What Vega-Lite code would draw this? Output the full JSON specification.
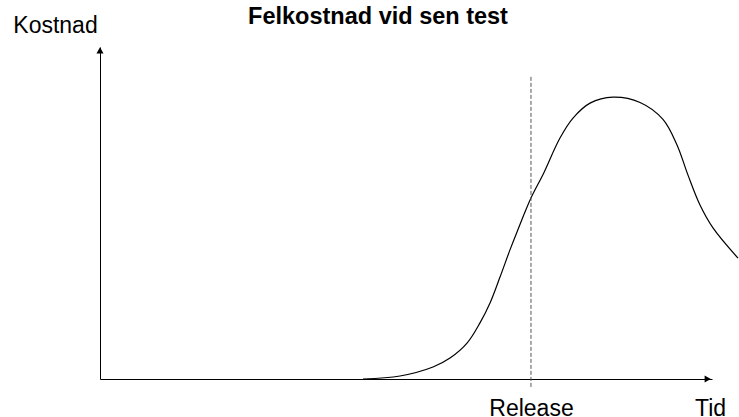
{
  "$schema": "https://vega.github.io/schema/vega-lite/v6.json",
  "autosize": {"type": "none"},
  "padding": {"left": 100, "top": 47, "right": 27, "bottom": 38},
  "width": 612,
  "height": 332,
  "background": "white",
  "config": {"view": {"stroke": null}},
  "title": {
    "text": "Felkostnad vid sen test",
    "frame": "group",
    "anchor": "middle",
    "offset": -33,
    "baseline": "alphabetic",
    "dx": -28,
    "fontSize": 23.5,
    "font": "Liberation Sans",
    "fontWeight": "bold",
    "color": "black"
  },
  "datasets": {
    "curve": [
      {"t": 42.97, "c": 0},
      {"t": 49.02, "c": 0.9},
      {"t": 54.41, "c": 3.6},
      {"t": 57.19, "c": 6.3},
      {"t": 59.97, "c": 10.8},
      {"t": 62.09, "c": 16.9},
      {"t": 63.73, "c": 22.9},
      {"t": 65.36, "c": 30.7},
      {"t": 66.99, "c": 38.9},
      {"t": 68.14, "c": 44.3},
      {"t": 70.42, "c": 54.5},
      {"t": 72.39, "c": 61.6},
      {"t": 75.16, "c": 72.6},
      {"t": 77.29, "c": 78.6},
      {"t": 80.07, "c": 83.1},
      {"t": 83.82, "c": 84.9},
      {"t": 88.24, "c": 83.3},
      {"t": 91.99, "c": 78.2},
      {"t": 94.28, "c": 70.5},
      {"t": 96.08, "c": 61.4},
      {"t": 98.04, "c": 52.4},
      {"t": 100.16, "c": 45.5},
      {"t": 104.25, "c": 36.4}
    ],
    "events": [
      {"event": "Release", "t": 70.42}
    ]
  },
  "layer": [
    {
      "data": {"name": "curve"},
      "mark": {"type": "line", "color": "black", "strokeWidth": 1.2, "interpolate": "catmull-rom", "clip": false},
      "encoding": {
        "x": {
          "field": "t", "type": "quantitative",
          "scale": {"domain": [0, 100], "nice": false, "zero": false},
          "axis": {
            "orient": "bottom",
            "domain": true, "domainColor": "black", "domainWidth": 1,
            "ticks": false, "tickSize": 0, "grid": false,
            "values": [70.42],
            "labelExpr": "'Release'",
            "labelFont": "Liberation Sans", "labelFontSize": 23, "labelColor": "black",
            "labelBaseline": "alphabetic", "labelPadding": 36,
            "labelFlush": false, "labelOverlap": false,
            "title": "Tid",
            "titleFont": "Liberation Sans", "titleFontSize": 23, "titleFontWeight": "normal", "titleColor": "black",
            "titleX": 610, "titleY": 36, "titleAlign": "center", "titleBaseline": "alphabetic", "titleAnchor": null
          }
        },
        "y": {
          "field": "c", "type": "quantitative",
          "scale": {"domain": [0, 100], "nice": false, "zero": false},
          "axis": {
            "orient": "left",
            "domain": true, "domainColor": "black", "domainWidth": 1,
            "ticks": false, "labels": false, "grid": false,
            "title": "Kostnad",
            "titleAngle": 0,
            "titleFont": "Liberation Sans", "titleFontSize": 23, "titleFontWeight": "normal", "titleColor": "black",
            "titleX": -45, "titleY": -15, "titleAlign": "center", "titleBaseline": "alphabetic"
          }
        }
      }
    },
    {
      "data": {"name": "events"},
      "mark": {"type": "rule", "color": "#555555", "strokeWidth": 1, "strokeDash": [4, 2], "clip": false},
      "encoding": {
        "x": {"field": "t", "type": "quantitative"},
        "y": {"datum": 91},
        "y2": {"datum": -2.4}
      }
    },
    {
      "data": {"values": [{}]},
      "mark": {"type": "point", "shape": "triangle-right", "filled": true, "color": "black", "size": 50, "opacity": 1, "clip": false},
      "encoding": {
        "x": {"datum": 99.3},
        "y": {"datum": 0}
      }
    },
    {
      "data": {"values": [{}]},
      "mark": {"type": "point", "shape": "triangle-up", "filled": true, "color": "black", "size": 50, "opacity": 1, "clip": false},
      "encoding": {
        "x": {"datum": 0},
        "y": {"datum": 99}
      }
    }
  ]
}
